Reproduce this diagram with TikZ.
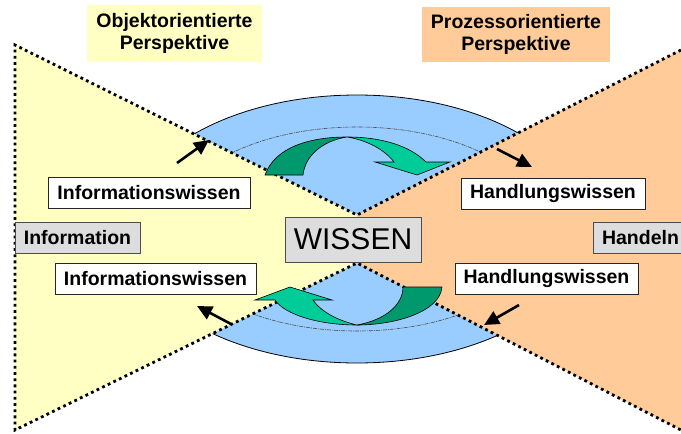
\documentclass[tikz,border=0pt]{standalone}
\usepackage{fontspec}
\newfontfamily\arialfont{Liberation Sans}
\usetikzlibrary{arrows.meta}
\definecolor{objyellow}{RGB}{255,255,196}
\definecolor{procorange}{RGB}{255,204,153}
\definecolor{wisblue}{RGB}{153,204,255}
\definecolor{darkgreen}{RGB}{0,153,110}
\definecolor{lightgreen}{RGB}{0,204,153}
\definecolor{boxgray}{RGB}{221,221,221}

\begin{document}
\begin{tikzpicture}[x=1pt,y=-1pt,
	lbl/.style={font=\arialfont\bfseries\fontsize{19.5}{22.5}\selectfont, inner sep=0pt, align=center},
	whitebox/.style={lbl, draw=black!85, line width=0.9pt, fill=white, minimum height=31pt},
	graybox/.style={lbl, draw=black!70, line width=0.9pt, fill=boxgray, minimum height=31pt},
	border/.style={line width=2.8pt, dash pattern=on 2.8pt off 3.4pt},
	hint/.style={line width=2.6pt, -{Triangle[length=15pt,width=14pt]}},
	darkpart/.style={fill=darkgreen, draw=black, line width=0.6pt},
	lightpart/.style={fill=lightgreen, draw=black, line width=0.6pt}]
	\clip (0,0) rectangle (681,434);
	\fill[white] (0,0) rectangle (681,434);
	
	\filldraw[fill=wisblue, draw=black, line width=0.8pt] (357,229) ellipse [x radius=231, y radius=134];
	\draw[black!70, line width=0.6pt, dash pattern=on 4pt off 1pt on 1pt off 1pt] (357,229) ellipse [x radius=188, y radius=102];
	
	\coordinate (tl) at (15,45);
	\coordinate (bl) at (15,430);
	\coordinate (tr) at (681,50);
	\coordinate (br) at (681,430);
	\coordinate (top) at (357,215);
	\coordinate (bot) at (357,263);
	\fill[objyellow] (tl) -- (top) -- (bot) -- (bl) -- cycle;
	\fill[procorange] (tr) -- (top) -- (bot) -- (br) -- cycle;
	\draw[border] (tr) -- (top) -- (tl) -- (bl) -- (bot) -- (br);
	
	\draw[darkpart] (265,175) .. controls (275,147) and (310,137) .. (347,137)
		.. controls (322,141) and (305,156) .. (303,175) -- cycle;
	\draw[lightpart] (347,137) .. controls (382,137) and (410,146) .. (426,162)
		-- (450,162) -- (417,175) -- (375,162) -- (394,162)
		.. controls (384,149) and (366,140) .. (347,137) -- cycle;
	\draw[darkpart] (442,287) .. controls (440,312) and (395,325) .. (357,325)
		.. controls (385,320) and (403,305) .. (403,287) -- cycle;
	\draw[lightpart] (357,325) .. controls (320,325) and (285,315) .. (275,300)
		-- (255,300) -- (290,287) -- (332,300) -- (313,300)
		.. controls (322,313) and (340,321) .. (357,325) -- cycle;
	
	\coordinate (a1) at (177,163);
	\coordinate (a1e) at (209,140);
	\coordinate (a2) at (497,149);
	\coordinate (a2e) at (532,167);
	\coordinate (a3) at (231,324);
	\coordinate (a3e) at (197,306);
	\coordinate (a4) at (519,305);
	\coordinate (a4e) at (484,325);
	\draw[hint] (a1) -- (a1e);
	\draw[hint] (a2) -- (a2e);
	\draw[hint] (a3) -- (a3e);
	\draw[hint] (a4) -- (a4e);
	
	\node[lbl, fill=objyellow, minimum width=175pt, minimum height=57pt] (objpersp) at (174.5,33.5) {Objektorientierte\\Perspektive};
	\node[lbl, fill=procorange, minimum width=188pt, minimum height=55pt] (procpersp) at (516,34.5) {Prozessorientierte\\Perspektive};
	\node[whitebox, minimum width=202pt] (infwissen1) at (149,193) {Informationswissen};
	\node[whitebox, minimum width=184pt] (handwissen1) at (553,193.5) {Handlungswissen};
	\node[graybox, minimum width=125pt] (information) at (77.5,237.5) {Information};
	\node[graybox, minimum width=95pt] (handeln) at (640.5,237.5) {Handeln};
	\node[graybox, font=\arialfont\fontsize{30}{32}\selectfont, minimum width=136pt, minimum height=45pt] (wissen) at (353,239.5) {WISSEN};
	\node[whitebox, minimum width=201pt] (infwissen2) at (155.5,278.5) {Informationswissen};
	\node[whitebox, minimum width=183pt] (handwissen2) at (546.5,278.5) {Handlungswissen};
\end{tikzpicture}
\end{document}
